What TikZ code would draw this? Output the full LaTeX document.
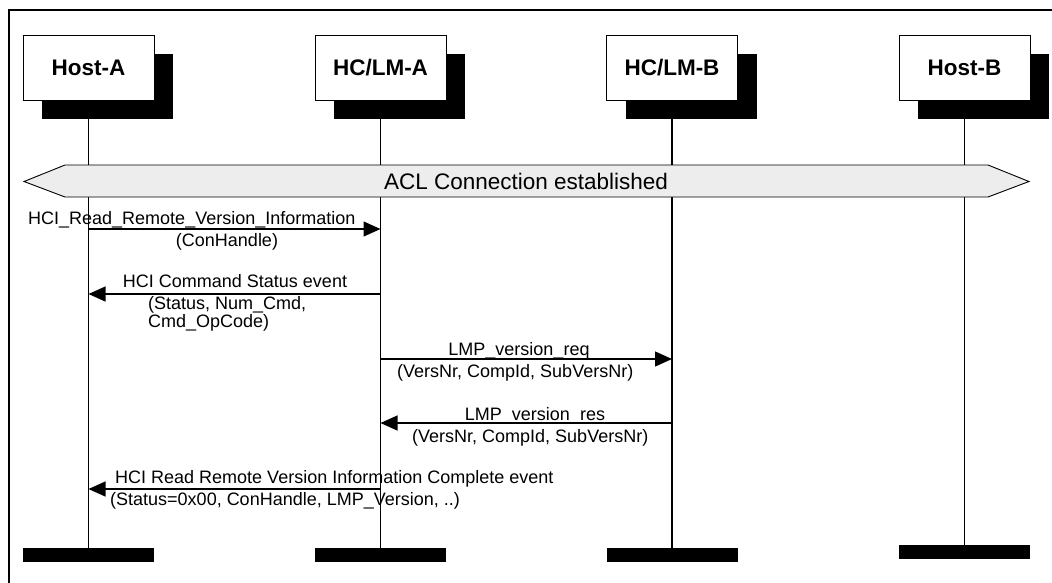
\documentclass[tikz,border=0pt]{standalone}
\usepackage{fontspec}
\setmainfont{Liberation Sans}
\usetikzlibrary{arrows.meta, shadows}

\tikzset{
    entity/.style={draw=black, fill=white, line width=0.8pt, minimum width=131pt, minimum height=65pt,
        inner sep=0pt, font=\fontsize{22.5}{26}\selectfont\bfseries,
        drop shadow={shadow xshift=19pt, shadow yshift=-19pt, fill=black, opacity=1}},
    endbar/.style={fill=black, minimum width=131pt, minimum height=14pt, inner sep=0pt},
    lifeline/.style={line width=1.2pt},
    band/.style={draw=black, fill=black!7, line width=0.9pt},
    msg/.style={line width=1.2pt, -{Triangle[length=17pt,width=15pt]}},
    lbl/.style={font=\fontsize{18}{14}\selectfont, inner sep=0pt},
}

\begin{document}
\begin{tikzpicture}[x=1pt,y=-1pt]
        \useasboundingbox (0,0) rectangle (1052,582);
        \draw[line width=2.5pt] (9,583) -- (9,10) -- (1053,10);

        \node[entity] (hostA) at (88.5,67.5) {Host-A};
        \node[entity] (hclmA) at (380.5,67.5) {HC/LM-A};
        \node[entity] (hclmB) at (672,67.5) {HC/LM-B};
        \node[entity] (hostB) at (964.5,67.5) {Host-B};

        \node[endbar] (hostA-end) at (88.5,555) {};
        \node[endbar] (hclmA-end) at (380.5,555) {};
        \node[endbar] (hclmB-end) at (672,555) {};
        \node[endbar] (hostB-end) at (964.5,552) {};

        \foreach \e in {hostA,hclmA,hclmB,hostB}
            \draw[lifeline] (\e.south) -- (\e-end.north);

        \draw[band] (24,181.5) -- (65,165) -- (988,165) -- (1029,181.5) -- (988,197) -- (65,197) -- cycle;
        \node[font=\fontsize{22.5}{26}\selectfont] (acl) at (526,181.5) {ACL Connection established};

        \coordinate (m1) at (0,229);
        \coordinate (m2) at (0,294);
        \coordinate (m3) at (0,359);
        \coordinate (m4) at (0,423);
        \coordinate (m5) at (0,489);

        \draw[msg] (hostA |- m1) -- (hclmA |- m1);
        \draw[msg] (hclmA |- m2) -- (hostA |- m2);
        \draw[msg] (hclmA |- m3) -- (hclmB |- m3);
        \draw[msg] (hclmB |- m4) -- (hclmA |- m4);
        \draw[msg] (hclmA |- m5) -- (hostA |- m5);

        \node[lbl, anchor=base west] (l1a) at (28,224) {HCI\_Read\_Remote\_Version\_Information};
        \node[lbl, anchor=base] (l1b) at (227,246) {(ConHandle)};
        \node[lbl, anchor=base] (l2a) at (235,287) {HCI Command Status event};
        \node[lbl, anchor=base west, align=left] (l2b) at (148,327) {(Status, Num\_Cmd,\\Cmd\_OpCode)};
        \node[lbl, anchor=base] (l3a) at (519,355) {LMP\_version\_req};
        \node[lbl, anchor=base west] (l3b) at (397,377) {(VersNr, CompId, SubVersNr)};
        \node[lbl, anchor=base] (l4a) at (535,420) {LMP\_version\_res};
        \node[lbl, anchor=base west] (l4b) at (412,442) {(VersNr, CompId, SubVersNr)};
        \node[lbl, anchor=base west] (l5a) at (115,483) {HCI Read Remote Version Information Complete event};
        \node[lbl, anchor=base west] (l5b) at (110,505) {(Status=0x00, ConHandle, LMP\_Version, ..)};
\end{tikzpicture}
\end{document}
